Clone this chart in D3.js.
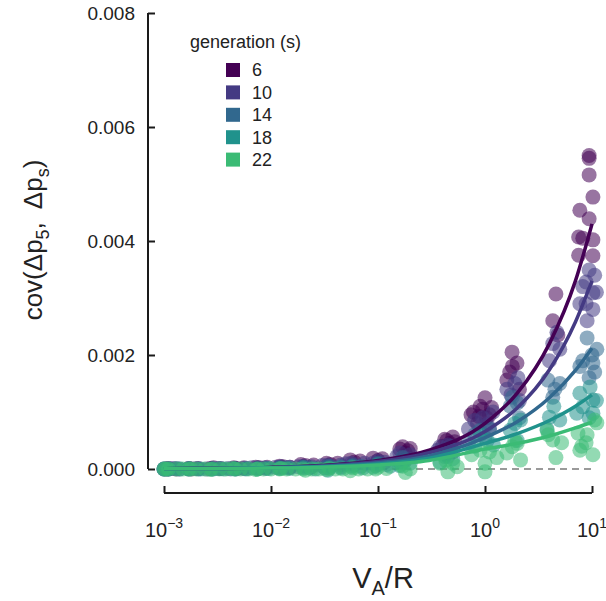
<!DOCTYPE html>
<html><head><meta charset="utf-8">
<script src="https://cdn.jsdelivr.net/npm/d3@7"></script>
<style>body{margin:0;background:#fff;} svg{display:block;font-family:"Liberation Sans",Arial,sans-serif;}</style>
</head><body><div id="chart"></div>
<script>
const generations = ["6","10","14","18","22"];
const colors = ["#440154","#443a83","#31688e","#20928c","#3bbb75"];
const xTicks = [0.001, 0.01, 0.1, 1, 10];
const xTickExp = ["\u22123","\u22122","\u22121","0","1"];
const yTicks = [0, 0.002, 0.004, 0.006, 0.008];

const pts6 = [[0.00105,0],[0.0011,0.00001],[0.0013,0],[0.0017,0.00001],[0.0018,0],[0.0021,0.00001],[0.0027,0.00001],[0.0029,0.00002],[0.0034,0.00001],[0.0045,0.00002],[0.0048,0.00001],[0.0056,0.00002],[0.0072,0.00003],[0.0078,0.00002],[0.0092,0.00003],[0.012,0.00005],[0.013,0.00004],[0.015,0.00003],[0.019,0.00008],[0.021,0.00006],[0.025,0.00007],[0.033,0.0001],[0.036,0.00008],[0.042,0.0001],[0.055,0.00016],[0.06,0.00012],[0.068,0.00014],[0.09,0.00019],[0.1,0.00015],[0.11,0.00018],[0.16,0.00035],[0.17,0.00039],[0.175,0.00022],[0.18,0.00028],[0.19,0.00032],[0.2,0.00036],[0.4,0.0004],[0.42,0.00052],[0.44,0.0005],[0.47,0.00045],[0.5,0.00056],[0.52,0.00048],[0.74,0.00095],[0.78,0.001],[0.85,0.0008],[0.88,0.00092],[0.9,0.0011],[0.95,0.00105],[1.0,0.00125],[1.03,0.0009],[1.1,0.00095],[1.15,0.00108],[1.6,0.00156],[1.7,0.0017],[1.79,0.00205],[1.8,0.0018],[1.99,0.00186],[2.1,0.0014],[4.3,0.0026],[4.6,0.00307],[4.8,0.00235],[7.5,0.00407],[7.5,0.00375],[7.7,0.00454],[8.2,0.00405],[9.4,0.0055],[9.4,0.00545],[9.4,0.00516],[9.4,0.00439],[10.2,0.00477],[10.2,0.00402],[10.2,0.00374]];
const pts10 = [[0.001,0],[0.0011,0],[0.0012,0.00001],[0.0014,0],[0.0017,0],[0.002,0.00001],[0.0025,0],[0.0028,0.00001],[0.0032,0.00001],[0.004,0.00001],[0.0046,0.00001],[0.0055,0.00001],[0.0066,0.00002],[0.0075,0.00002],[0.0088,0.00002],[0.011,0.00003],[0.012,0.00003],[0.0125,0.00004],[0.015,0.00003],[0.018,0.00004],[0.02,0.00005],[0.024,0.00004],[0.03,0.00006],[0.034,0.00007],[0.036,0.00005],[0.045,0.00007],[0.05,0.00009],[0.056,0.0001],[0.06,0.00008],[0.075,0.0001],[0.09,0.0001],[0.1,0.00014],[0.115,0.00012],[0.15,0.00022],[0.16,0.00028],[0.18,0.0002],[0.2,0.00025],[0.36,0.00033],[0.38,0.00039],[0.45,0.00042],[0.47,0.0004],[0.5,0.0003],[0.7,0.0007],[0.8,0.00085],[0.95,0.0009],[1.05,0.00078],[1.1,0.0007],[1.19,0.001],[1.6,0.0014],[1.75,0.0013],[1.9,0.0015],[2.03,0.0016],[2.1,0.0012],[4.0,0.0019],[4.3,0.0022],[4.7,0.0024],[5.0,0.0021],[7.7,0.0029],[8.2,0.0032],[8.8,0.00328],[8.8,0.0029],[9.0,0.0026],[9.4,0.00349],[10.2,0.00309],[10.2,0.0028],[10.6,0.0034],[11.0,0.0031]];
const pts14 = [[0.001,0],[0.0011,0],[0.0013,0.00001],[0.0017,0.00001],[0.0021,0],[0.0028,0],[0.0033,0.00001],[0.0042,0],[0.0047,0],[0.006,0.00001],[0.0076,0.00001],[0.009,0.00001],[0.012,0.00002],[0.014,0.00002],[0.02,0.00003],[0.023,0.00002],[0.032,0.00002],[0.035,0.00005],[0.045,0.00004],[0.058,0.00006],[0.07,0.00005],[0.095,0.00006],[0.1,0.0001],[0.12,0.00008],[0.16,0.00012],[0.17,0.0002],[0.18,0.00015],[0.4,0.0003],[0.43,0.00026],[0.45,0.00022],[0.48,0.00035],[0.7,0.00045],[0.8,0.0006],[0.9,0.00068],[1.0,0.00055],[1.1,0.0007],[1.72,0.0011],[1.8,0.00126],[2.0,0.00116],[2.1,0.0009],[3.87,0.00156],[4.3,0.00126],[4.5,0.0014],[5.0,0.0015],[7.7,0.0018],[8.2,0.0019],[9.0,0.0023],[9.4,0.0016],[10.2,0.00186],[10.6,0.0017],[11.1,0.0021],[10.0,0.002]];
const pts18 = [[0.001,0],[0.0011,0],[0.0014,0],[0.0017,0],[0.0022,0],[0.0029,0],[0.0036,0],[0.0046,0],[0.0058,0],[0.0074,0],[0.0095,0.00001],[0.012,0.00001],[0.015,0.00001],[0.02,0.00002],[0.026,0],[0.034,-0.00002],[0.035,0.00002],[0.045,0.00002],[0.057,0.00004],[0.072,0.00002],[0.09,0.00003],[0.1,0.00008],[0.13,0.00005],[0.16,0.00006],[0.17,0.00012],[0.2,0.0001],[0.38,0.00012],[0.42,0.00022],[0.5,0.00018],[0.8,0.0004],[0.9,0.0006],[1.05,0.0005],[1.2,0.00042],[1.72,0.00068],[1.9,0.0008],[2.0,0.0005],[2.15,0.00086],[3.8,0.0007],[4.0,0.00091],[4.4,0.0011],[5.0,0.00086],[7.2,0.00098],[7.7,0.00133],[8.2,0.00109],[9.4,0.0009],[9.6,0.00144],[10.2,0.00121],[10.2,0.00098],[11.0,0.0012]];
const pts22 = [[0.001,0],[0.00105,0],[0.0011,0],[0.0013,0],[0.0015,0],[0.0017,0],[0.0018,0],[0.002,0],[0.0024,0],[0.0027,-0.00001],[0.0028,0],[0.0033,0],[0.0038,0],[0.0044,0.00001],[0.0046,0],[0.0052,0],[0.0062,0],[0.0072,-0.00001],[0.0075,0],[0.0085,0],[0.01,0],[0.012,0],[0.0125,0.00001],[0.014,0],[0.017,0],[0.02,0],[0.021,-0.00002],[0.024,0],[0.028,0],[0.033,-0.00001],[0.035,0.00001],[0.04,0],[0.047,0],[0.055,-0.00003],[0.058,0.00002],[0.066,0],[0.08,0],[0.095,0],[0.1,0.00003],[0.12,0.00001],[0.16,0.00008],[0.17,0.00005],[0.18,-0.00006],[0.2,0],[0.38,0.0001],[0.43,0.00015],[0.45,-0.00005],[0.5,0.0001],[0.55,0.00004],[0.75,0.00025],[0.9,0.00033],[1.0,0.0001],[1.0,-0.00005],[1.1,0.0003],[1.29,0.0002],[1.6,0.00028],[1.8,0.00039],[1.9,0.0005],[2.0,0.00045],[2.15,0.00016],[3.8,0.00068],[3.9,0.0006],[4.3,0.00051],[4.6,0.0002],[5.2,0.00046],[7.4,0.00063],[7.7,0.00033],[8.0,0.0004],[8.8,0.00046],[9.0,0.0006],[10.2,0.00025],[10.6,0.00086],[11.1,0.00081]];
const pointSets = [pts6, pts10, pts14, pts18, pts22];

const curveX = [0.001, 0.003, 0.01, 0.03, 0.1, 0.3, 1, 2, 4, 7, 10];
const fit6  = [0.000005, 0.000012, 0.000028, 0.000063, 0.00015, 0.00033, 0.0008, 0.00133, 0.0022, 0.0033, 0.0043];
const fit10 = [0.000005, 0.00001, 0.000025, 0.000055, 0.00013, 0.000285, 0.00066, 0.00107, 0.00174, 0.00258, 0.0033];
const fit14 = [0.000005, 0.00001, 0.000022, 0.000048, 0.00011, 0.00023, 0.00055, 0.00083, 0.00125, 0.00173, 0.00212];
const fit18 = [0.000004, 0.000009, 0.00002, 0.00004, 0.00009, 0.00019, 0.00045, 0.00062, 0.00085, 0.0011, 0.0013];
const fit22 = [0.000004, 0.000008, 0.000016, 0.000032, 0.00007, 0.00015, 0.00035, 0.00045, 0.00058, 0.00072, 0.00082];
const fits = [fit6, fit10, fit14, fit18, fit22];

const W = 606, H = 601;
const svg = d3.select("#chart").append("svg").attr("width", W).attr("height", H);

const x = d3.scaleLog().domain([0.001, 10]).range([164, 592]);
const y = d3.scaleLinear().domain([0, 0.008]).range([469, 13]);
const axisColor = "#1a1a1a";

svg.append("line").attr("x1", x(0.001)).attr("x2", x(10)).attr("y1", y(0)).attr("y2", y(0))
  .attr("stroke", "#9a9a9a").attr("stroke-width", 2).attr("stroke-dasharray", "7,5");

pointSets.forEach((pts, i) => {
  svg.append("g").selectAll("circle").data(pts).join("circle")
    .attr("cx", d => x(d[0])).attr("cy", d => y(d[1])).attr("r", 7.5)
    .attr("fill", colors[i]).attr("fill-opacity", 0.55);
});

const line = d3.line().x(d => x(d[0])).y(d => y(d[1])).curve(d3.curveMonotoneX);
fits.forEach((f, i) => {
  svg.append("path").datum(curveX.map((v, j) => [v, f[j]])).attr("d", line)
    .attr("fill", "none").attr("stroke", colors[i]).attr("stroke-width", 3.5);
});

const yAxis = d3.axisRight(y).tickValues(yTicks).tickSize(7).tickFormat("");
const gy = svg.append("g").attr("transform", "translate(148,0)").call(yAxis);
gy.select(".domain").attr("d", `M0,${y(0.008)}V${y(0)}`).attr("stroke", axisColor).attr("stroke-width", 2);
gy.selectAll(".tick line").attr("stroke", axisColor).attr("stroke-width", 2);
svg.append("g").selectAll("text").data(yTicks).join("text")
  .attr("x", 135).attr("y", d => y(d)).attr("dy", "0.35em").attr("text-anchor", "end")
  .attr("font-size", 19).attr("fill", "#222").text(d => d3.format(".3f")(d));

const xAxis = d3.axisTop(x).tickValues(xTicks).tickSize(7).tickFormat("");
const gx = svg.append("g").attr("transform", "translate(0,493)").call(xAxis);
gx.select(".domain").attr("d", `M${x(0.001)},0H${x(10)}`).attr("stroke", axisColor).attr("stroke-width", 2);
gx.selectAll(".tick line").attr("stroke", axisColor).attr("stroke-width", 2);
const xl = svg.append("g").selectAll("text").data(xTicks).join("text")
  .attr("x", d => x(d)).attr("y", 537).attr("text-anchor", "middle")
  .attr("font-size", 20).attr("fill", "#222");
xl.append("tspan").text("10");
xl.append("tspan").attr("dy", -9).attr("font-size", 14).text((d, i) => xTickExp[i]);

const xt = svg.append("text").attr("x", 383).attr("y", 588).attr("text-anchor", "middle")
  .attr("font-size", 29).attr("fill", "#222");
xt.append("tspan").text("V");
xt.append("tspan").attr("dy", 7).attr("font-size", 20).text("A");
xt.append("tspan").attr("dy", -7).text("/R");

const yt = svg.append("text").attr("transform", "translate(42,240) rotate(-90)").attr("text-anchor", "middle")
  .attr("font-size", 26).attr("fill", "#222");
yt.append("tspan").text("cov(\u0394p");
yt.append("tspan").attr("dy", 7).attr("font-size", 18).text("5");
yt.append("tspan").attr("dy", -7).text(",\u2002\u0394p");
yt.append("tspan").attr("dy", 7).attr("font-size", 18).text("s");
yt.append("tspan").attr("dy", -7).text(")");

const lg = svg.append("g");
lg.append("text").attr("x", 190).attr("y", 48).attr("font-size", 18).attr("fill", "#222").text("generation (s)");
generations.forEach((g, i) => {
  const cy = 70 + i * 22.4;
  lg.append("rect").attr("x", 226).attr("y", cy - 7).attr("width", 14).attr("height", 14).attr("fill", colors[i]);
  lg.append("text").attr("x", 252).attr("y", cy).attr("dy", "0.36em").attr("font-size", 18).attr("fill", "#222").text(g);
});
</script>
</body></html>
